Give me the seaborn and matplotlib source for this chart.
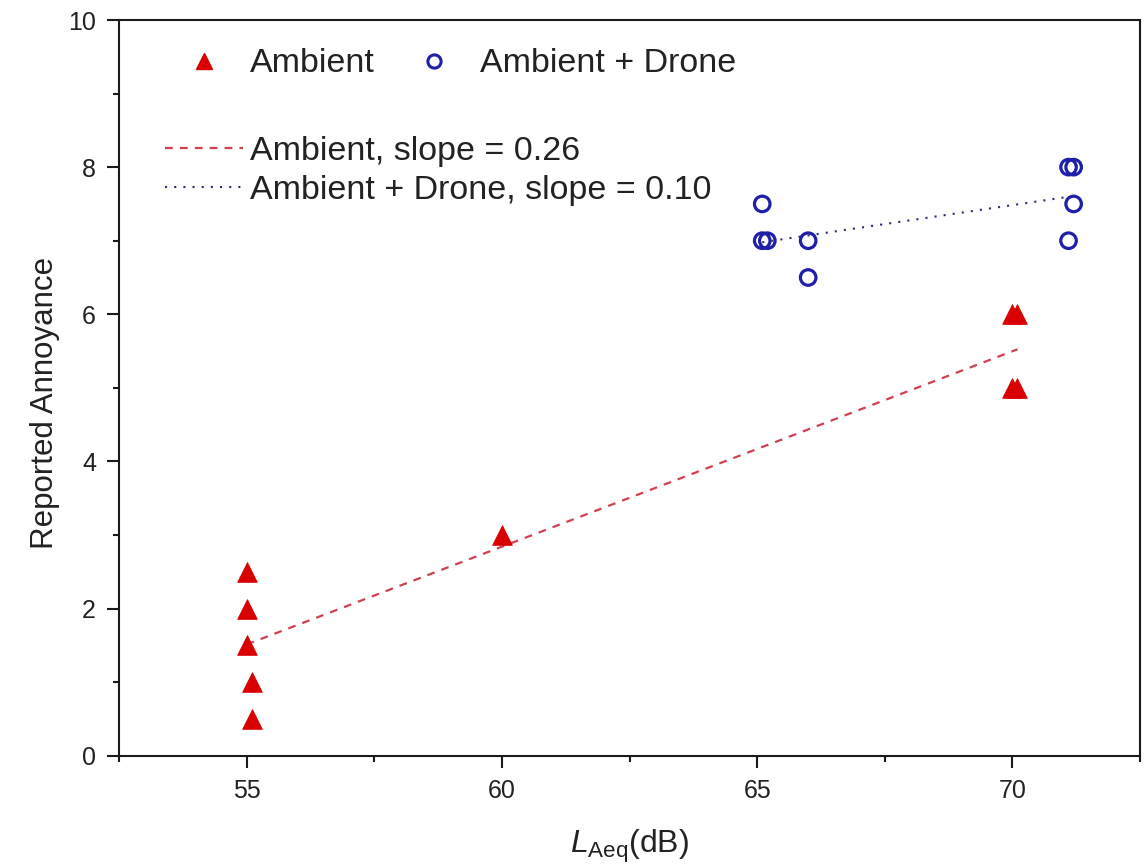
import matplotlib
matplotlib.use("Agg")
import matplotlib.pyplot as plt
import seaborn as sns
import numpy as np
import pandas as pd
from matplotlib.lines import Line2D
from matplotlib.ticker import MultipleLocator

# ---- data ----
amb_x = [55.0, 55.0, 55.0, 55.1, 55.1, 60.0, 70.0, 70.1, 70.0, 70.1]
amb_y = [2.5, 2.0, 1.5, 1.0, 0.5, 3.0, 6.0, 6.0, 5.0, 5.0]
drone_x = [65.1, 65.1, 65.2, 66.0, 66.0, 71.1, 71.2, 71.2, 71.1]
drone_y = [7.5, 7.0, 7.0, 7.0, 6.5, 8.0, 8.0, 7.5, 7.0]
series_labels = ["Ambient", "Ambient + Drone"]
fit_labels = ["Ambient, slope = 0.26", "Ambient + Drone, slope = 0.10"]
x_ticks = [55, 60, 65, 70]
y_ticks = [0, 2, 4, 6, 8, 10]

RED = "#d80000"
BLUE = "#1f1fa8"
RED_LINE = "#d0404f"
BLUE_LINE = "#2e2e70"

sns.set_theme(style="ticks")
plt.rcParams["font.family"] = ["Liberation Sans", "DejaVu Sans"]
plt.rcParams["mathtext.fontset"] = "custom"
plt.rcParams["mathtext.rm"] = "Liberation Sans"
plt.rcParams["mathtext.it"] = "Liberation Sans:italic"

W, H = 1148, 864
fig = plt.figure(figsize=(W / 100, H / 100), dpi=100)
L, R, T, B = 119, 1140, 20, 755.7
ax = fig.add_axes([L / W, 1 - B / H, (R - L) / W, (B - T) / H])

# regression lines
sns.regplot(x=amb_x, y=amb_y, ax=ax, scatter=False, ci=None, truncate=True,
            line_kws=dict(color=RED_LINE, lw=1.6, linestyle=(0, (3.5, 3.2))))
sns.regplot(x=drone_x, y=drone_y, ax=ax, scatter=False, ci=None, truncate=True,
            line_kws=dict(color=BLUE_LINE, lw=1.5, linestyle=(0, (1, 3.4))))

# scatter points
sns.scatterplot(x=amb_x, y=amb_y, ax=ax, marker="^", s=200, color=RED,
                edgecolor=RED, linewidth=0.6, zorder=3)
sns.scatterplot(x=drone_x, y=drone_y, ax=ax, marker="o", s=125,
                facecolor="none", edgecolor=BLUE, linewidth=2.3, zorder=3)

ax.set_xlim(52.5, 72.5)
ax.set_ylim(0, 10)
ax.set_xticks(x_ticks)
ax.set_yticks(y_ticks)
ax.xaxis.set_minor_locator(MultipleLocator(2.5))
ax.yaxis.set_minor_locator(MultipleLocator(1))

for s in ax.spines.values():
    s.set_visible(True)
    s.set_linewidth(1.5)
    s.set_color("#1a1a1a")

ax.tick_params(axis="both", which="major", direction="out", length=8.5,
               width=1.5, color="#1a1a1a", labelsize=18, pad=8,
               labelcolor="#222222")
ax.tick_params(axis="both", which="minor", direction="out", length=4.5,
               width=1.5, color="#1a1a1a")
ax.tick_params(top=False, right=False, which="both")

ax.set_ylabel("Reported Annoyance", fontsize=22.5, color="#222222")
ax.yaxis.set_label_coords(-0.058, 0.48)
ax.set_xlabel(r"$\it{L}_{\rm{Aeq}}$(dB)", fontsize=23, color="#222222")
ax.xaxis.set_label_coords(0.5, -0.0985)

# legends
h1 = Line2D([], [], marker="^", color=RED, ls="none", markersize=11)
h2 = Line2D([], [], marker="o", mfc="none", mec=BLUE, mew=2.2, ls="none",
            markersize=9.5)
leg1 = ax.legend([h1, h2], series_labels, ncol=2, loc="center left",
                 bbox_to_anchor=(165 / W, 1 - 64 / H),
                 bbox_transform=fig.transFigure, frameon=False,
                 fontsize=24.5, handlelength=2.3, handletextpad=0.2,
                 columnspacing=0.6, borderpad=0, borderaxespad=0)
for t in leg1.get_texts():
    t.set_color("#222222")
ax.add_artist(leg1)

l1 = Line2D([], [], color=RED_LINE, lw=1.6, linestyle=(0, (3.5, 3.2)))
l2 = Line2D([], [], color=BLUE_LINE, lw=1.5, linestyle=(0, (1, 3.4)))
leg2 = ax.legend([l1, l2], fit_labels, loc="center left",
                 bbox_to_anchor=(165 / W, 1 - 171 / H),
                 bbox_transform=fig.transFigure, frameon=False,
                 fontsize=24.5, handlelength=2.3, handletextpad=0.2,
                 labelspacing=0.25, borderpad=0, borderaxespad=0)
for t in leg2.get_texts():
    t.set_color("#222222")

fig.savefig("out.png", dpi=100)
